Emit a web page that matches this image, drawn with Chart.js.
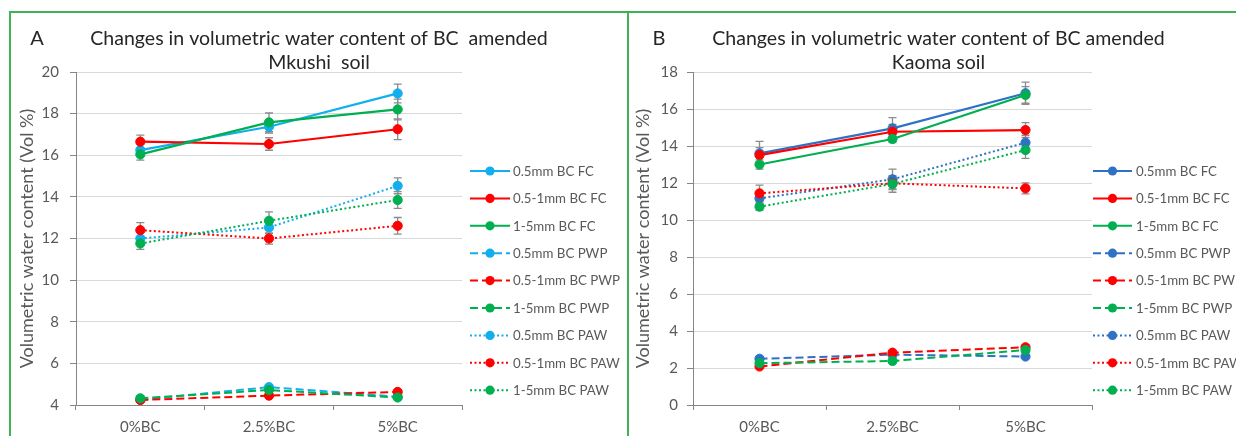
<!DOCTYPE html>
<html><head><meta charset="utf-8">
<script src="https://cdn.jsdelivr.net/npm/chart.js@4.4.1/dist/chart.umd.min.js"></script>
<style>
html,body{margin:0;padding:0;background:#fff;}
body{width:1236px;height:436px;position:relative;overflow:hidden;}
#wa{position:absolute;left:0;top:0;width:628px;height:436px;}
#wb{position:absolute;left:628px;top:0;width:608px;height:436px;}
.bd{position:absolute;background:#3cb454;}
</style></head><body>
<div id="wa"><canvas id="ca"></canvas></div>
<div id="wb"><canvas id="cb"></canvas></div>
<div class="bd" style="left:9px;top:11px;width:1227px;height:2px"></div>
<div class="bd" style="left:9px;top:11px;width:2px;height:425px"></div>
<div class="bd" style="left:627px;top:11px;width:2px;height:425px"></div>
<script>
// ---------- data ----------
const categories = ['0%BC', '2.5%BC', '5%BC'];
const sizeNames = ['0.5mm', '0.5-1mm', '1-5mm'];
const measures = ['FC', 'PWP', 'PAW'];
const yTicksA = [4, 6, 8, 10, 12, 14, 16, 18, 20];
const yTicksB = [0, 2, 4, 6, 8, 10, 12, 14, 16, 18];

// Mkushi soil (panel A): rows = 0.5mm, 0.5-1mm, 1-5mm
const mkushiFC  = [[16.25, 17.37, 18.97], [16.65, 16.54, 17.25], [16.04, 17.58, 18.2]];
const mkushiPWP = [[4.25, 4.86, 4.4], [4.24, 4.45, 4.63], [4.32, 4.72, 4.36]];
const mkushiPAW = [[12.0, 12.53, 14.53], [12.4, 12.0, 12.61], [11.76, 12.85, 13.85]];
const mkushiFCerr  = [[0.3, 0.3, 0.45], [0.32, 0.3, 0.5], [0.27, 0.45, 0.5]];
const mkushiPWPerr = [[0.1, 0.1, 0.1], [0.1, 0.1, 0.1], [0.1, 0.1, 0.1]];
const mkushiPAWerr = [[0.3, 0.3, 0.38], [0.36, 0.27, 0.4], [0.28, 0.43, 0.4]];

// Kaoma soil (panel B)
const kaomaFC  = [[13.6, 14.95, 16.85], [13.51, 14.77, 14.86], [13.0, 14.38, 16.76]];
const kaomaPWP = [[2.5, 2.72, 2.62], [2.08, 2.83, 3.12], [2.26, 2.38, 2.97]];
const kaomaPAW = [[11.17, 12.2, 14.18], [11.44, 11.98, 11.71], [10.72, 11.95, 13.78]];
const kaomaFCerr  = [[0.65, 0.58, 0.6], [0.4, 0.4, 0.4], [0.25, 0.2, 0.45]];
const kaomaPWPerr = [[0.1, 0.1, 0.1], [0.1, 0.1, 0.1], [0.1, 0.1, 0.1]];
const kaomaPAWerr = [[0.3, 0.55, 0.4], [0.45, 0.3, 0.3], [0.2, 0.45, 0.45]];

const colorsA = ['#12aeee', '#ff0000', '#00b050'];
const colorsB = ['#2f72c4', '#ff0000', '#00b050'];
const dashes = { FC: [], PWP: [8, 4], PAW: [2, 2.5] };
const FONT = 'Lato, "Open Sans", sans-serif';

function buildDatasets(vals, errs, colors) {
  const out = [];
  measures.forEach((m, mi) => {
    sizeNames.forEach((s, si) => {
      out.push({
        label: s + ' BC ' + m,
        data: vals[mi][si],
        errs: errs[mi][si],
        borderColor: colors[si],
        backgroundColor: colors[si],
        pointBackgroundColor: colors[si],
        pointBorderColor: colors[si],
        borderWidth: m === 'FC' ? 2.2 : 2,
        borderDash: dashes[m],
        pointRadius: 4.6,
        pointBorderWidth: 1,
        tension: 0,
        order: 20 - out.length
      });
    });
  });
  return out;
}

function fitSize(ctx, text, target, weight) {
  ctx.font = (weight || '') + ' 100px ' + FONT;
  return 100 * target / ctx.measureText(text).width;
}

const deco = {
  id: 'deco',
  beforeDatasetsDraw(chart) {
    const ctx = chart.ctx, ys = chart.scales.y;
    ctx.save();
    ctx.strokeStyle = '#8c8c8c';
    ctx.lineWidth = 1.3;
    chart.data.datasets.forEach((ds, i) => {
      const meta = chart.getDatasetMeta(i);
      meta.data.forEach((pt, j) => {
        const v = ds.data[j], e = ds.errs[j];
        const x = pt.x;
        const y1 = ys.getPixelForValue(v + e), y2 = ys.getPixelForValue(v - e);
        ctx.beginPath();
        ctx.moveTo(x, y1); ctx.lineTo(x, y2);
        ctx.moveTo(x - 4, y1); ctx.lineTo(x + 4, y1);
        ctx.moveTo(x - 4, y2); ctx.lineTo(x + 4, y2);
        ctx.stroke();
      });
    });
    ctx.restore();
  },
  afterDraw(chart, args, o) {
    const ctx = chart.ctx;
    ctx.save();
    ctx.fillStyle = '#262626';
    ctx.textBaseline = 'alphabetic';
    ctx.textAlign = 'center';
    ctx.font = '20px ' + FONT;
    ctx.fillText(o.letter, o.letterX, 45);
    const fs = fitSize(ctx, o.title1, o.titleW);
    ctx.font = fs.toFixed(2) + 'px ' + FONT;
    ctx.fillText(o.title1, o.titleX, 44.5);
    ctx.fillText(o.title2, o.titleX, 69);
    const ls = fitSize(ctx, '0.5mm BC FC', 81);
    chart.data.datasets.forEach((ds, i) => {
      const y = o.legTop + i * o.legStep;
      ctx.save();
      ctx.strokeStyle = ds.borderColor;
      ctx.lineWidth = 2;
      ctx.setLineDash(ds.borderDash || []);
      ctx.beginPath();
      ctx.moveTo(o.lx0, y); ctx.lineTo(o.lx1, y);
      ctx.stroke();
      ctx.setLineDash([]);
      ctx.fillStyle = ds.borderColor;
      ctx.beginPath();
      ctx.arc((o.lx0 + o.lx1) / 2, y, 4.6, 0, Math.PI * 2);
      ctx.fill();
      ctx.restore();
      ctx.fillStyle = '#595959';
      ctx.textAlign = 'left';
      ctx.textBaseline = 'middle';
      ctx.font = ls.toFixed(2) + 'px ' + FONT;
      ctx.fillText(ds.label, o.tx, y + 0.5);
    });
    ctx.restore();
  }
};

function makeChart(id, datasets, ticks, yWidth, padRight, titlePad, tickPad, deco) {
  return new Chart(document.getElementById(id), {
    type: 'line',
    data: { labels: categories, datasets: datasets },
    plugins: [deco],
    options: {
      responsive: true,
      maintainAspectRatio: false,
      animation: false,
      events: [],
      layout: { padding: { top: 72, right: padRight, left: 0, bottom: 0 } },
      plugins: { legend: { display: false }, tooltip: { enabled: false }, deco: deco.opts },
      scales: {
        x: {
          type: 'category',
          offset: true,
          grid: { offset: true, drawOnChartArea: false, drawTicks: true, tickLength: 5, tickColor: '#868686' },
          border: { color: '#868686', width: 1 },
          ticks: { font: { family: FONT, size: 15 }, color: '#595959', padding: 8, maxRotation: 0 },
          afterFit(s) { s.height = 31; }
        },
        y: {
          min: ticks[0], max: ticks[ticks.length - 1],
          afterBuildTicks(s) { s.ticks = ticks.map(v => ({ value: v })); },
          grid: { color: '#d9d9d9', tickColor: '#868686', tickLength: 6, drawTicks: true, lineWidth: 1 },
          border: { color: '#868686', width: 1 },
          ticks: { font: { family: FONT, size: 15 }, color: '#595959', padding: tickPad },
          title: { display: true, text: 'Volumetric water content (Vol %)', font: { family: FONT, size: 18 }, color: '#595959', padding: { top: titlePad, bottom: 0 } },
          afterFit(s) { s.width = yWidth; }
        }
      }
    }
  });
}

const decoA = Object.assign({}, deco);
decoA.opts = { letter: 'A', letterX: 37, title1: 'Changes in volumetric water content of BC  amended', title2: 'Mkushi  soil', titleX: 319, titleW: 458, legTop: 171, legStep: 27.4, lx0: 470, lx1: 510, tx: 513 };
const decoB = Object.assign({}, deco);
decoB.opts = { letter: 'B', letterX: 31, title1: 'Changes in volumetric water content of BC amended', title2: 'Kaoma soil', titleX: 310.5, titleW: 453, legTop: 171, legStep: 27.4, lx0: 465, lx1: 504, tx: 508 };

makeChart('ca', buildDatasets([mkushiFC, mkushiPWP, mkushiPAW], [mkushiFCerr, mkushiPWPerr, mkushiPAWerr], colorsA), yTicksA, 76, 166, 16, 11, decoA);
makeChart('cb', buildDatasets([kaomaFC, kaomaPWP, kaomaPAW], [kaomaFCerr, kaomaPWPerr, kaomaPAWerr], colorsB), yTicksB, 65, 144, 4, 9, decoB);
</script>
</body></html>
